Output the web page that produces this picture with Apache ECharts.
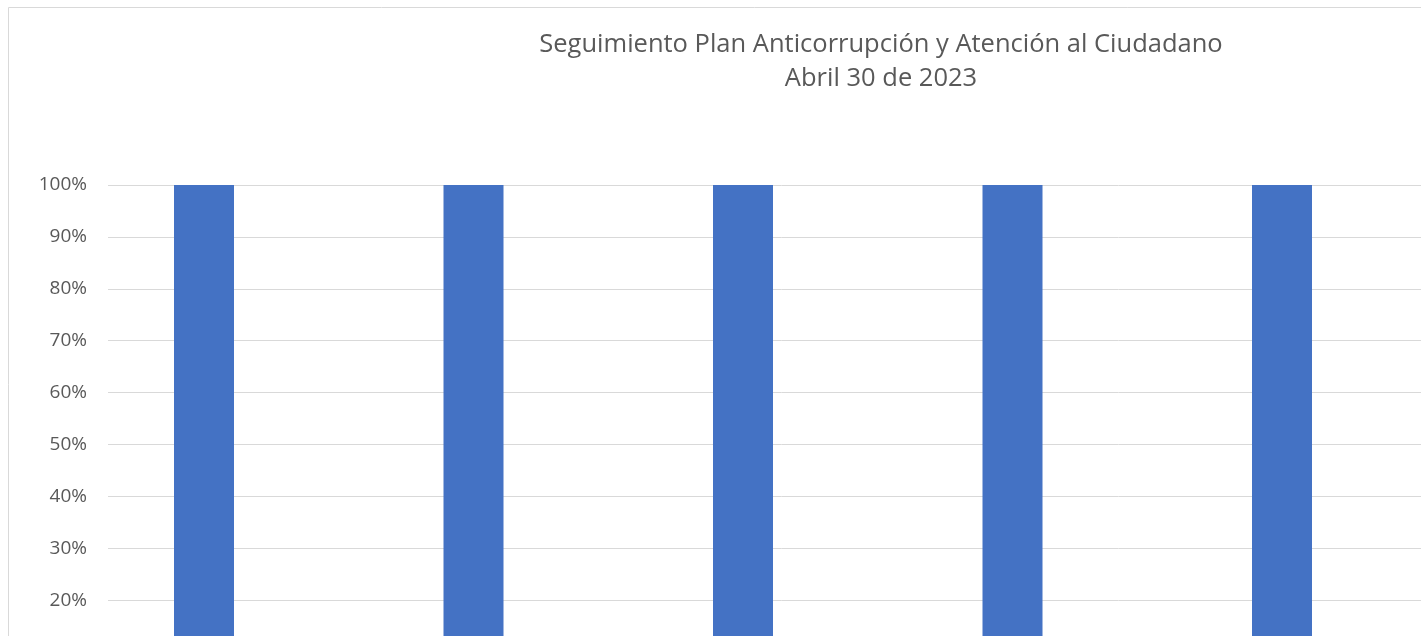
<!DOCTYPE html>
<html>
<head>
<meta charset="utf-8">
<title>Seguimiento Plan Anticorrupción</title>
<script src="https://cdn.jsdelivr.net/npm/echarts@6/dist/echarts.min.js"></script>
<style>
  html, body { margin: 0; padding: 0; overflow: hidden; background: #fff; }
  #chart { width: 1500px; height: 760px; }
</style>
</head>
<body>
<div id="chart"></div>
<script>
// componentes del plan (las etiquetas quedan fuera del recorte)
const categories = [
  'Gestión del Riesgo de Corrupción',
  'Racionalización de Trámites',
  'Rendición de Cuentas',
  'Mecanismos para Mejorar la Atención al Ciudadano',
  'Transparencia y Acceso a la Información'
]
const avance = [1, 1, 1, 1, 1]
const titleLines = ['Seguimiento Plan Anticorrupción y Atención al Ciudadano', 'Abril 30 de 2023']

const chartInstance = echarts.init(document.getElementById('chart'))
const gridTop = 185
const gridBottom = 56
const bandWidth = 1347.5

const option = {
  animation: false,
  textStyle: { fontFamily: 'Open Sans' },
  graphic: [
    {
      type: 'rect',
      shape: { x: 8.5, y: 7.5, width: 1600, height: 900 },
      style: { fill: 'none', stroke: '#d9d9d9', lineWidth: 1 },
      silent: true
    },
    {
      type: 'text',
      x: 881,
      y: 28,
      style: {
        text: titleLines.join('\n'),
        align: 'center',
        fill: '#595959',
        font: '25.5px "Open Sans"',
        lineHeight: 34
      }
    }
  ],
  grid: [
    // grid 0: eje y y líneas de cuadrícula
    { left: 108, top: gridTop, bottom: gridBottom, width: bandWidth },
    // grid 1: barras (desplazadas como en el original)
    { left: 69.25, top: gridTop, bottom: gridBottom, width: bandWidth }
  ],
  xAxis: [
    { type: 'category', gridIndex: 0, data: categories, show: false },
    { type: 'category', gridIndex: 1, data: categories, show: false }
  ],
  yAxis: [
    {
      type: 'value',
      gridIndex: 0,
      min: 0,
      max: 1,
      interval: 0.1,
      axisLine: { show: false },
      axisTick: { show: false },
      axisLabel: {
        color: '#595959',
        fontSize: 19,
        margin: 21,
        formatter: v => Math.round(v * 100) + '%'
      },
      splitLine: { lineStyle: { color: '#d9d9d9', width: 1 } }
    },
    {
      type: 'value',
      gridIndex: 1,
      min: 0,
      max: 1,
      show: false,
      splitLine: { show: false }
    }
  ],
  series: [
    {
      type: 'bar',
      xAxisIndex: 1,
      yAxisIndex: 1,
      data: avance,
      barWidth: 60,
      itemStyle: { color: '#4472c4' }
    }
  ]
}
chartInstance.setOption(option)
</script>
</body>
</html>
